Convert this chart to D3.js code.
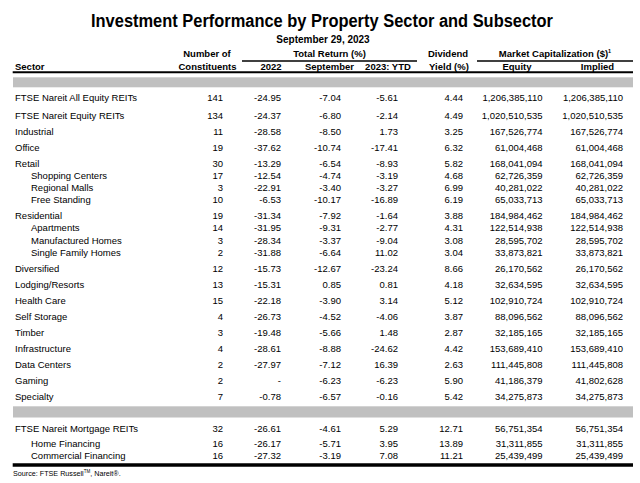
<!DOCTYPE html>
<html><head><meta charset="utf-8">
<script src="https://cdn.jsdelivr.net/npm/d3@7"></script>
<style>
html,body{margin:0;padding:0;background:#fff;}
svg{display:block;}
text{font-family:"Liberation Sans",Arial,sans-serif;fill:#000;}
</style></head>
<body>
<script>
const titleText = "Investment Performance by Property Sector and Subsector";
const subtitleText = "September 29, 2023";
const sectors = ["FTSE Nareit All Equity REITs","FTSE Nareit Equity REITs","Industrial","Office","Retail","Shopping Centers","Regional Malls","Free Standing","Residential","Apartments","Manufactured Homes","Single Family Homes","Diversified","Lodging/Resorts","Health Care","Self Storage","Timber","Infrastructure","Data Centers","Gaming","Specialty","FTSE Nareit Mortgage REITs","Home Financing","Commercial Financing"];
const levels = [0,0,0,0,0,1,1,1,0,1,1,1,0,0,0,0,0,0,0,0,0,0,1,1];
const constituents = [141,134,11,19,30,17,3,10,19,14,3,2,12,13,15,4,3,4,2,2,7,32,16,16];
const return2022 = [-24.95,-24.37,-28.58,-37.62,-13.29,-12.54,-22.91,-6.53,-31.34,-31.95,-28.34,-31.88,-15.73,-15.31,-22.18,-26.73,-19.48,-28.61,-27.97,null,-0.78,-26.61,-26.17,-27.32];
const returnSep = [-7.04,-6.80,-8.50,-10.74,-6.54,-4.74,-3.40,-10.17,-7.92,-9.31,-3.37,-6.64,-12.67,0.85,-3.90,-4.52,-5.66,-8.88,-7.12,-6.23,-6.57,-4.61,-5.71,-3.19];
const returnYTD = [-5.61,-2.14,1.73,-17.41,-8.93,-3.19,-3.27,-16.89,-1.64,-2.77,-9.04,11.02,-23.24,0.81,3.14,-4.06,1.48,-24.62,16.39,-6.23,-0.16,5.29,3.95,7.08];
const dividendYield = [4.44,4.49,3.25,6.32,5.82,4.68,6.99,6.19,3.88,4.31,3.08,3.04,8.66,4.18,5.12,3.87,2.87,4.42,2.63,5.90,5.42,12.71,13.89,11.21];
const mcapEquity = [1206385110,1020510535,167526774,61004468,168041094,62726359,40281022,65033713,184984462,122514938,28595702,33873821,26170562,32634595,102910724,88096562,32185165,153689410,111445808,41186379,34275873,56751354,31311855,25439499];
const mcapImplied = [1206385110,1020510535,167526774,61004468,168041094,62726359,40281022,65033713,184984462,122514938,28595702,33873821,26170562,32634595,102910724,88096562,32185165,153689410,111445808,41802628,34275873,56751354,31311855,25439499];
const sourceText = "Source: FTSE Russell";

const W = 640, H = 483;
const svg = d3.select("body").append("svg").attr("width", W).attr("height", H);

const loc = d3.formatLocale({decimal:".", thousands:",", grouping:[3], currency:["$",""], minus:"-"});
const f2 = loc.format(".2f"), fInt = loc.format(",d");
const fr = v => v == null ? "-" : f2(v);

// columns: key -> right edge
const colKeys = ["n","r22","rsep","rytd","dy","eq","im"];
const colX = d3.scaleOrdinal().domain(colKeys).range([223, 281, 341, 398, 463, 542.5, 623]);

// row vertical positions
const rowsY = [];
let y = 97.3;
sectors.forEach((s, i) => {
  if (i > 0) {
    let step = levels[i] === 1 ? 12.1 : 16;
    if (i === 1) step = 18.4;
    if (i === 21) step = 32;
    if (i === 22) step = 15.7;
    y += step;
  }
  rowsY.push(y);
});
const yScale = d3.scaleOrdinal().domain(d3.range(sectors.length)).range(rowsY);

// title
svg.append("text").attr("x", 322).attr("y", 26.5).attr("text-anchor","middle")
  .attr("textLength", 462).attr("lengthAdjust","spacingAndGlyphs")
  .style("font-weight","bold").style("font-size","18px").text(titleText);
svg.append("text").attr("x", 323).attr("y", 42.5).attr("text-anchor","middle")
  .style("font-weight","bold").style("font-size","10px").text(subtitleText);

// headers
const hdr = [
  {t:"Number of", x:207, y:54, a:"middle"},
  {t:"Constituents", x:207.5, y:67, a:"middle"},
  {t:"Total Return (%)", x:329.5, y:54, a:"middle"},
  {t:"2022", x:271, y:67, a:"middle"},
  {t:"September", x:329.5, y:67, a:"middle"},
  {t:"2023: YTD", x:388, y:67, a:"middle"},
  {t:"Dividend", x:448, y:54, a:"middle"},
  {t:"Yield (%)", x:449, y:67, a:"middle"},
  {t:"Equity", x:517, y:67, a:"middle"},
  {t:"Implied", x:597.5, y:67, a:"middle"},
  {t:"Sector", x:15, y:67, a:"start"}
];
svg.append("g").selectAll("text").data(hdr).join("text")
  .attr("x", d => d.x).attr("y", d => d.y + 3.3).attr("text-anchor", d => d.a)
  .style("font-weight","bold").style("font-size","9.5px").text(d => d.t);
const mc = svg.append("text").attr("x", 555).attr("y", 57.3).attr("text-anchor","middle")
  .style("font-weight","bold").style("font-size","9.5px");
mc.append("tspan").text("Market Capitalization ($)");
mc.append("tspan").attr("dy",-4).style("font-size","5.5px").text("1");

// rules
svg.append("line").attr("x1",242).attr("x2",417).attr("y1",61).attr("y2",61).attr("stroke","#000").attr("stroke-width",1.6);
svg.append("line").attr("x1",477).attr("x2",633).attr("y1",61).attr("y2",61).attr("stroke","#000").attr("stroke-width",1.6);
svg.append("line").attr("x1",12.7).attr("x2",633).attr("y1",72.3).attr("y2",72.3).attr("stroke","#000").attr("stroke-width",2);
svg.append("rect").attr("x",13).attr("y",77.3).attr("width",620).attr("height",10).attr("fill","#c0c0c0");
svg.append("rect").attr("x",13).attr("y",406.3).attr("width",620).attr("height",11.2).attr("fill","#c0c0c0");
svg.append("line").attr("x1",12.7).attr("x2",633).attr("y1",465).attr("y2",465).attr("stroke","#000").attr("stroke-width",3.4);

// rows
const rows = sectors.map((s, i) => ({i, s, lvl: levels[i],
  vals: [String(constituents[i]), fr(return2022[i]), fr(returnSep[i]), fr(returnYTD[i]), f2(dividendYield[i]), fInt(mcapEquity[i]), fInt(mcapImplied[i])]}));
const g = svg.append("g").style("font-size","9.5px");
const rg = g.selectAll("g.row").data(rows).join("g").attr("class","row")
  .attr("transform", d => `translate(0,${yScale(d.i) + 3.3})`);
rg.append("text").attr("x", d => d.lvl ? 31 : 15).text(d => d.s);
rg.selectAll("text.v").data(d => d.vals.map((v, k) => ({v, k}))).join("text").attr("class","v")
  .attr("x", d => colX(colKeys[d.k])).attr("text-anchor","end").text(d => d.v);

// source
const src = svg.append("text").attr("x", 13).attr("y", 476).style("font-size","7.2px");
src.append("tspan").text(sourceText);
src.append("tspan").attr("dy",-3).style("font-size","4.5px").text("TM");
src.append("tspan").attr("dy",3).text(", Nareit®.");
</script>
</body></html>
